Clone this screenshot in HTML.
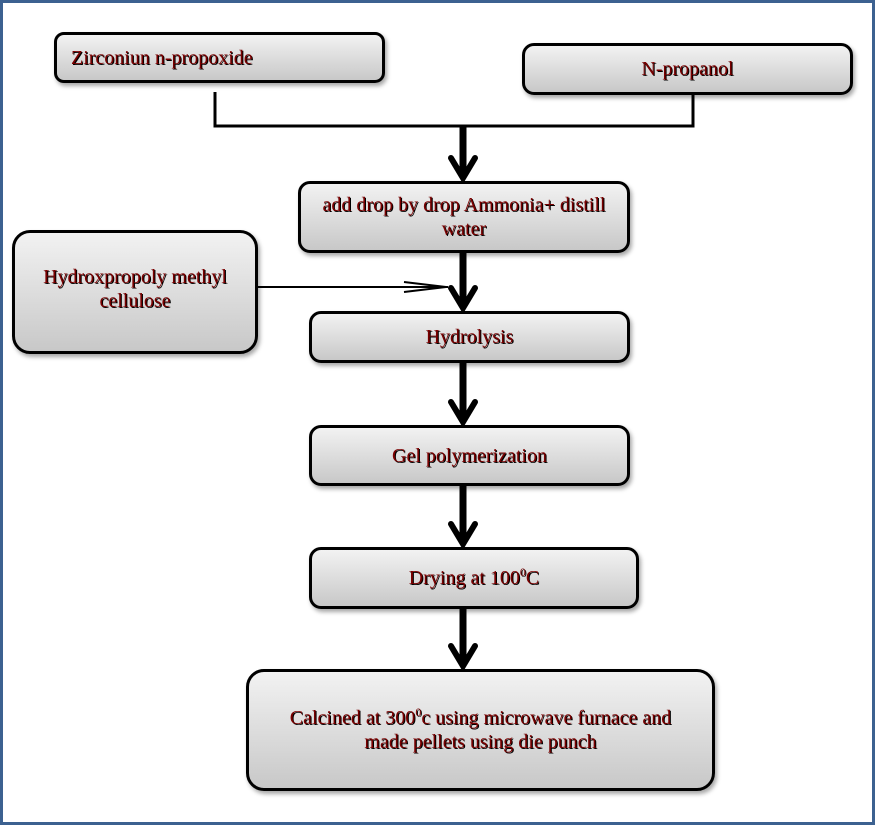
<!DOCTYPE html>
<html><head><style>
body{margin:0;width:875px;height:825px;background:#fff;position:relative;overflow:hidden;font-family:"Liberation Serif","Times New Roman",serif;}
.frame{position:absolute;left:0;top:0;width:869px;height:819px;border:3px solid #3c6190;}
.b{position:absolute;box-sizing:border-box;border:3.5px solid #000;border-radius:12px;background:linear-gradient(#f2f2f2,#c8c8c8);box-shadow:2px 3px 4px rgba(0,0,0,.35);display:flex;align-items:center;justify-content:center;text-align:center;font-family:"Liberation Serif",serif;font-size:20px;line-height:24px;color:#7a0000;text-shadow:1px 1px 0 #000;}
sup{font-size:12px;line-height:0;vertical-align:8px;}
svg{position:absolute;left:0;top:0;}
</style></head><body>
<div class="frame"></div>
<svg width="875" height="825">
<g stroke="#000" fill="none">
<polyline points="215,92 215,126 693,126 693,95" stroke-width="3"/>
<line x1="463" y1="126" x2="463" y2="176" stroke-width="7"/>
<line x1="463" y1="252" x2="463" y2="306" stroke-width="7"/>
<line x1="463" y1="362" x2="463" y2="420" stroke-width="7"/>
<line x1="463" y1="485" x2="463" y2="542" stroke-width="7"/>
<line x1="463" y1="608" x2="463" y2="664" stroke-width="7"/>
<line x1="257" y1="287" x2="448" y2="287" stroke-width="2"/>
<polyline points="404,282 446,287 404,292" stroke-width="2"/>
<g stroke-width="6" stroke-linecap="round">
<polyline points="451,158 463,178 475,158"/>
<polyline points="451,288 463,308 475,288"/>
<polyline points="451,402 463,422 475,402"/>
<polyline points="451,524 463,544 475,524"/>
<polyline points="451,646 463,666 475,646"/>
</g>
</g>
</svg>
<div class="b" style="left:54px;top:32px;width:331px;height:51px;justify-content:flex-start;padding-left:14px;border-radius:10px"><span>Zirconiun n-propoxide</span></div>
<div class="b" style="left:522px;top:43px;width:331px;height:52px"><span>N-propanol</span></div>
<div class="b" style="left:298px;top:181px;width:332px;height:72px"><span>add drop by drop Ammonia+ distill<br>water</span></div>
<div class="b" style="left:12px;top:230px;width:246px;height:124px;border-radius:18px;padding-bottom:6px"><span>Hydroxpropoly methyl<br>cellulose</span></div>
<div class="b" style="left:309px;top:311px;width:321px;height:52px"><span>Hydrolysis</span></div>
<div class="b" style="left:309px;top:425px;width:321px;height:61px"><span>Gel polymerization</span></div>
<div class="b" style="left:309px;top:547px;width:330px;height:62px"><span>Drying at 100<sup>0</sup>C</span></div>
<div class="b" style="left:246px;top:669px;width:469px;height:122px;border-radius:18px"><span>Calcined at 300<sup>0</sup>c using microwave furnace and<br>made pellets using die punch</span></div>
</body></html>
